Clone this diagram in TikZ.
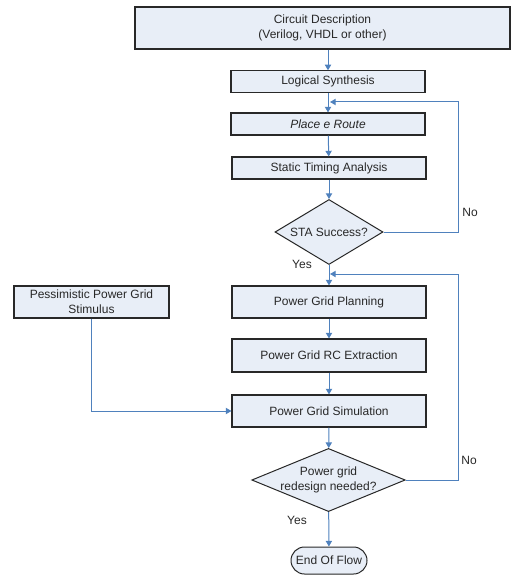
\documentclass[tikz,border=0pt]{standalone}
\usepackage{fontspec}
\setmainfont{Liberation Sans}
\usetikzlibrary{shapes.geometric,arrows.meta}
\definecolor{boxfill}{RGB}{232,238,247}
\definecolor{flowblue}{RGB}{79,129,189}
\definecolor{inkgray}{RGB}{40,40,40}
\tikzset{
  stepbox/.style={draw=inkgray, line width=0.9pt, fill=boxfill, text=inkgray,
    inner sep=0pt, minimum width=155.2pt, minimum height=17pt, align=center},
  choice/.style={diamond, draw=inkgray, line width=0.8pt, fill=boxfill, text=inkgray,
    inner sep=0pt, align=center},
  flow/.style={draw=flowblue, line width=0.8pt, -{Triangle[length=4.5pt,width=5pt]}},
  lbl/.style={text=inkgray}
}
\begin{document}
\begin{tikzpicture}[x=0.8pt, y=-0.8pt, font=\fontsize{9.6}{12}\selectfont]
        \useasboundingbox (0,0) rectangle (511,575);

        % Main column of steps
        \node[stepbox, minimum width=300pt, minimum height=33.6pt] (desc) at (322.5,28)
            {Circuit Description\\(Verilog, VHDL or other)};
        \node[stepbox] (synth) at (328,81.5) {Logical Synthesis};
        \node[stepbox, minimum height=17.6pt] (pnr) at (328,124) {\itshape Place e Route};
        \node[stepbox, minimum height=17.6pt] (sta) at (329,168) {Static Timing Analysis};

        % First decision
        \node[choice, shape aspect=1.66, minimum width=86.4pt, minimum height=52pt] (staok) at (329,232) {STA Success?};

        % Power grid steps
        \node[stepbox, minimum height=25.6pt] (plan) at (329,302) {Power Grid Planning};
        \node[stepbox, minimum height=26.4pt] (rcx) at (329,355.5) {Power Grid RC Extraction};
        \node[stepbox, minimum height=25.6pt] (sim) at (329,411) {Power Grid Simulation};
        \node[stepbox, minimum width=124pt, minimum height=25.6pt] (stim) at (91.5,302)
            {Pessimistic Power Grid\\Stimulus};

        % Second decision and end
        \node[choice, shape aspect=2.43, inner xsep=-2.5pt, minimum width=122.4pt, minimum height=50.4pt] (redo) at (328.5,480)
            {Power grid\\redesign needed?};
        \node[draw=inkgray, line width=0.8pt, fill=boxfill, text=inkgray, rounded corners=10.8pt,
            minimum width=60.8pt, minimum height=21.6pt, inner sep=0pt] (done) at (329,560.5) {End Of Flow};

        % Return points of the loops
        \coordinate (back1) at (330,102);
        \coordinate (back2) at (330,274);

        % Straight flow
        \draw[flow] (desc.south -| synth.north) -- (synth.north);
        \draw[flow] (synth) -- (pnr);
        \draw[flow] (pnr) -- (sta);
        \draw[flow] (sta) -- (staok);
        \draw[flow] (staok) -- (plan);
        \draw[flow] (plan) -- (rcx);
        \draw[flow] (rcx) -- (sim);
        \draw[flow] (sim) -- (redo);
        \draw[flow] (redo) -- (done);
        \draw[flow] (stim.south) |- (sim.west);

        % Loops back
        \draw[flow] (staok.east) -| (458,102) -- (back1);
        \draw[flow] (redo.east) -| (458,274) -- (back2);

        % Branch labels
        \node[lbl] (no1) at (470,212) {No};
        \node[lbl] (yes1) at (302,264) {Yes};
        \node[lbl] (no2) at (469,460) {No};
        \node[lbl] (yes2) at (297,520) {Yes};
\end{tikzpicture}
\end{document}
